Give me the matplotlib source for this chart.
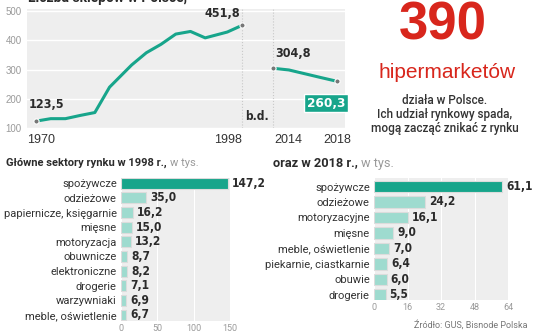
import matplotlib
matplotlib.use("Agg")
import matplotlib.pyplot as plt
import numpy as np
from matplotlib import font_manager

plt.rcParams['font.family'] = ['Roboto', 'DejaVu Sans']

# condensed bold face for numbers if one is installed
NUMF = 'Liberation Sans'
NUM_STRETCH = 'normal'
for f in font_manager.fontManager.ttflist:
    if 'Narrow' in f.name or 'Condensed' in f.name:
        NUMF = f.name
        break
    if f.stretch in ('condensed', 'semi-condensed') and f.weight in (700, 'bold'):
        NUMF, NUM_STRETCH = f.name, f.stretch
        break

TEAL = '#17a58b'
LIGHT_TEAL = '#9edbcf'
BG = '#eeeeee'
RED = '#d8261c'
DARK = '#2b2b2b'
GREY = '#9a9a9a'

# a. data - number of shops
years_a = [1970, 1972, 1974, 1976, 1978, 1980, 1983, 1985, 1987, 1989, 1991, 1993, 1996, 1998]
shops_a = [123.5, 132, 132, 143, 153, 240, 316, 358, 387, 422, 431, 409, 429, 451.8]
years_b = [2014, 2015, 2016, 2017, 2018]
shops_b = [304.8, 299, 286, 273, 260.3]

# b. data - sectors
sect_98 = ['spożywcze', 'odzieżowe', 'papiernicze, księgarnie', 'mięsne', 'motoryzacja',
           'obuwnicze', 'elektroniczne', 'drogerie', 'warzywniaki', 'meble, oświetlenie']
vals_98 = [147.2, 35.0, 16.2, 15.0, 13.2, 8.7, 8.2, 7.1, 6.9, 6.7]
sect_18 = ['spożywcze', 'odzieżowe', 'motoryzacyjne', 'mięsne', 'meble, oświetlenie',
           'piekarnie, ciastkarnie', 'obuwie', 'drogerie']
vals_18 = [61.1, 24.2, 16.1, 9.0, 7.0, 6.4, 6.0, 5.5]


def pos(y):
    # broken time axis: 1970-1998 then squeezed 2014-2018
    y = np.asarray(y, dtype=float)
    return np.where(y <= 1998, y, 2002.2 + (y - 2014) * 2.17)


fig = plt.figure(figsize=(5.36, 3.32), dpi=100)
rend = fig.canvas.get_renderer()


def fit(t, width_px):
    # shrink/grow text so it is width_px wide
    w = t.get_window_extent(rend).width
    t.set_fontsize(t.get_fontsize() * width_px / w)
    return t


# size for the bold numbers: "147,2" about 33 px wide
probe = fig.text(0, 0, '147,2', fontsize=10, fontfamily=[NUMF], fontweight='bold',
                 fontstretch=NUM_STRETCH)
NUMSIZE = fit(probe, 34).get_fontsize()
probe.remove()
nf = dict(fontfamily=[NUMF, 'DejaVu Sans'], fontweight='bold', fontstretch=NUM_STRETCH, color=DARK)

# c. line chart
ax = fig.add_axes([27/536, 1-128/332, 318/536, 119.3/332])
ax.set_facecolor(BG)
for s in ax.spines.values():
    s.set_visible(False)
ax.set_xlim(1968.78, 2012.0)
ax.set_ylim(100, 509)
ax.set_yticks([100, 200, 300, 400, 500])
ax.tick_params(axis='y', length=0, labelsize=7, labelcolor=GREY, pad=4)
for lab in ax.get_yticklabels():
    lab.set_fontfamily(['Liberation Sans'])
ax.set_xticks([])
ax.grid(axis='y', color='white', lw=1)
ax.set_axisbelow(True)
for yr in [1998, 2014]:
    ax.axvline(pos(yr), color='#c8c8c8', ls=':', lw=0.8)
ax.plot(pos(years_a), shops_a, color=TEAL, lw=2.2, solid_joinstyle='round', zorder=3)
ax.plot(pos(years_b), shops_b, color=TEAL, lw=2.2, zorder=3)
ends_x = pos([years_a[0], years_a[-1], years_b[0], years_b[-1]])
ends_y = [shops_a[0], shops_a[-1], shops_b[0], shops_b[-1]]
ax.scatter(ends_x, ends_y, s=14, color='#777777', edgecolor='white', lw=0.8, zorder=4)

big = NUMSIZE * 1.05
ax.annotate('123,5', (pos(1970), shops_a[0]), xytext=(-5, 7), textcoords='offset points',
            ha='left', va='bottom', fontsize=big, **nf)
ax.annotate('451,8', (pos(1998), shops_a[-1]), xytext=(-1, 4), textcoords='offset points',
            ha='right', va='bottom', fontsize=big, **nf)
ax.annotate('304,8', (pos(2014), shops_b[0]), xytext=(2, 6), textcoords='offset points',
            ha='left', va='bottom', fontsize=big, **nf)
ax.annotate('260,3', (pos(2018), shops_b[-1]), xytext=(6, -11), textcoords='offset points',
            ha='right', va='top', fontsize=big * 1.08, fontfamily=[NUMF, 'DejaVu Sans'],
            fontweight='bold', fontstretch=NUM_STRETCH, color='white', annotation_clip=False,
            bbox=dict(boxstyle='square,pad=0.18', fc=TEAL, ec='white', lw=1))
ax.text(2000.0, 138, 'b.d.', ha='center', va='center', fontsize=NUMSIZE, **nf)
for yr, ha, dx in [(1970, 'center', 0.7), (1998, 'right', 0), (2014, 'left', 0.2), (2018, 'center', 0)]:
    ax.annotate(str(yr), (pos(yr) + dx, 100), xytext=(0, -4), textcoords='offset points',
                ha=ha, va='top', fontsize=9, color='#333333', annotation_clip=False,
                fontfamily=['Liberation Sans'])

# cut off title on top
fig.text(28/536, 1-2/332, 'Liczba sklepów w Polsce,', fontsize=10, fontweight='bold',
         color=DARK, va='baseline')

# d. right text block
fig.text(443/536, 1-25/332, '390', fontsize=38, fontweight='bold', color=RED,
         ha='center', va='center', fontfamily=['Liberation Sans'])
fig.text(447/536, 1-73/332, 'hipermarketów', fontsize=15, color=RED,
         ha='center', va='center', fontfamily=['Liberation Sans'])
for i, line in enumerate(['działa w Polsce.', 'Ich udział rynkowy spada,', 'mogą zacząć znikać z rynku']):
    fig.text(445/536, 1-(100 + i * 14.5)/332, line, fontsize=8.5, color='#333333',
             ha='center', va='center', fontweight='medium')


# e. bar charts
def bars(rect, cats, vals, xmax, ticks, ylim):
    b = fig.add_axes(rect)
    b.set_facecolor(BG)
    for s in b.spines.values():
        s.set_visible(False)
    yy = np.arange(len(cats))
    colors = [TEAL] + [LIGHT_TEAL] * (len(cats) - 1)
    b.barh(yy, vals, height=0.74, color=colors, edgecolor='#dcdcdc', lw=0.8, zorder=3)
    b.set_xlim(0, xmax)
    b.set_ylim(*ylim)
    b.set_yticks(yy, cats)
    b.set_xticks(ticks)
    b.tick_params(axis='y', length=0, labelsize=8, labelcolor='#333333', pad=3)
    b.tick_params(axis='x', length=0, labelsize=6.5, labelcolor=GREY, pad=2)
    b.grid(axis='x', color='white', lw=0.8)
    b.set_axisbelow(True)
    for y, v in zip(yy, vals):
        b.annotate(f'{v:.1f}'.replace('.', ','), (v, y), xytext=(3, 0),
                   textcoords='offset points', ha='left', va='center',
                   fontsize=NUMSIZE, annotation_clip=False, **nf)
    return b


bars([121/536, 1-321/332, 109/536, 143/332], sect_98, vals_98, 150, [0, 50, 100, 150], (9.41, -0.36))
bars([374/536, 1-300/332, 134/536, 122/332], sect_18, vals_18, 64, [0, 16, 32, 48, 64], (7.33, -0.55))


def title(x, bold, width_px):
    t = fig.text(x/536, 1-163/332, bold, fontsize=9, fontweight='bold', color=DARK, va='center')
    fit(t, width_px)
    bb = t.get_window_extent(rend)
    fig.text((bb.x1 + 3) / 536, 1-163/332, 'w tys.', fontsize=t.get_fontsize(),
             color=GREY, va='center')


title(6, 'Główne sektory rynku w 1998 r.,', 160)
title(273, 'oraz w 2018 r.,', 85)
fig.text(527/536, 1-325/332, 'Źródło: GUS, Bisnode Polska', fontsize=6.5, color='#777777',
         ha='right', va='center')

fig.savefig('out.png', dpi=100, facecolor='white')
